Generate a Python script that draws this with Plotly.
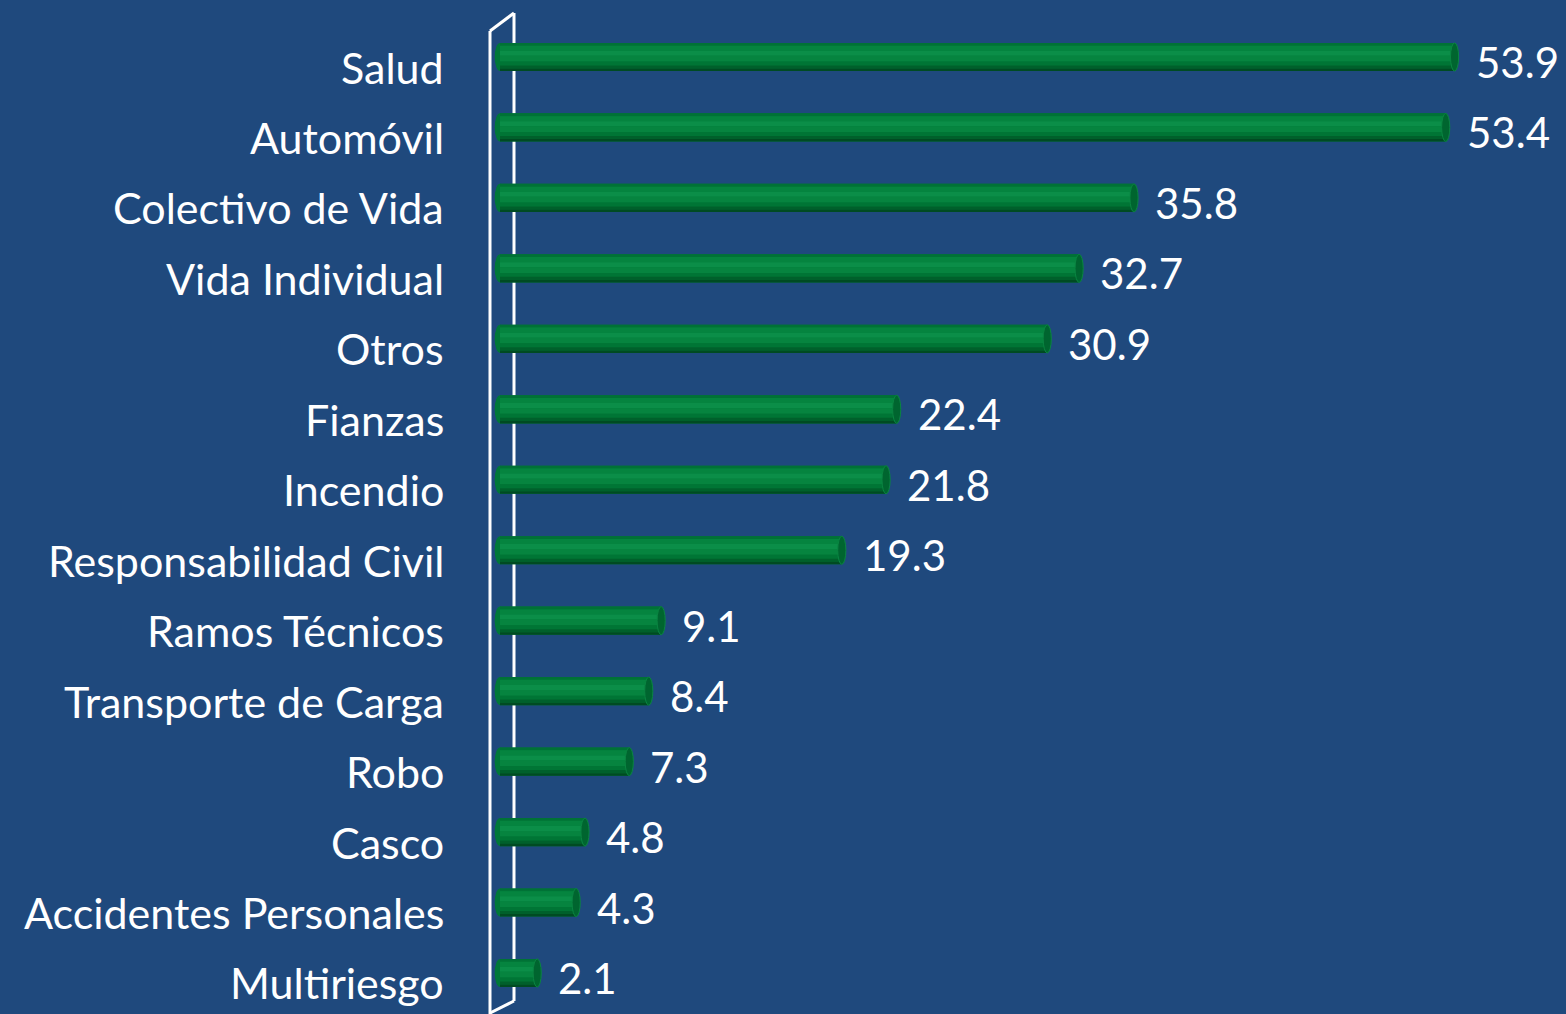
import plotly.graph_objects as go

categories = ["Salud", "Automóvil", "Colectivo de Vida", "Vida Individual", "Otros",
              "Fianzas", "Incendio", "Responsabilidad Civil", "Ramos Técnicos",
              "Transporte de Carga", "Robo", "Casco", "Accidentes Personales", "Multiriesgo"]
values = [53.9, 53.4, 35.8, 32.7, 30.9, 22.4, 21.8, 19.3, 9.1, 8.4, 7.3, 4.8, 4.3, 2.1]
value_labels = [f"{v:.1f}" for v in values]

W, H = 1566, 1014
BG = "#1F497D"
FONT = "Lato"
n = len(categories)
idx = list(range(n))

ML, MR = 460, 10
PX_PER_UNIT = 17.71
ZERO_PX = 500
x_lo = -(ZERO_PX - ML) / PX_PER_UNIT
x_hi = x_lo + (W - ML - MR) / PX_PER_UNIT

# y mapping: category centers at 57 + 70.46*i px
first_c, step = 57.0, 70.46
y_top = -first_c / step
y_bot = (H - first_c) / step

half = 0.2
fig = go.Figure()
# solid base under the shading bands (hides anti-aliasing seams)
fig.add_trace(go.Bar(
    x=values, y=idx, orientation="h",
    width=[2 * half] * n, offset=[-half] * n,
    marker=dict(color="#007A3A", line=dict(width=0)),
    hoverinfo="skip", showlegend=False,
))
# cylinder shading bands (fraction of bar thickness from top, colour)
bands = [
    (0.00, 0.10, "#007236"),
    (0.10, 0.28, "#05843F"),
    (0.28, 0.46, "#0B8E48"),
    (0.46, 0.66, "#06843F"),
    (0.66, 0.80, "#007535"),
    (0.80, 0.91, "#00602B"),
    (0.91, 1.00, "#004B22"),
]
for f0, f1, col in bands:
    fig.add_trace(go.Bar(
        x=values, y=idx, orientation="h",
        width=[(f1 - f0) * 2 * half] * n, offset=[-half + f0 * 2 * half] * n,
        marker=dict(color=col, line=dict(width=0)),
        hoverinfo="skip", showlegend=False,
    ))

shapes = []
def px2x(p):
    return (p - ZERO_PX) / PX_PER_UNIT
def py2paper(p):
    return 1 - p / H

# frame (3D wall)
line = dict(color="white", width=3)
shapes.append(dict(type="line", xref="x", yref="paper", x0=px2x(514), x1=px2x(514),
                   y0=py2paper(13), y1=py2paper(1001), line=line, layer="below"))
shapes.append(dict(type="line", xref="x", yref="paper", x0=px2x(490), x1=px2x(490),
                   y0=py2paper(31), y1=py2paper(1016), line=line, layer="above"))
shapes.append(dict(type="line", xref="x", yref="paper", x0=px2x(490), x1=px2x(514),
                   y0=py2paper(31), y1=py2paper(13), line=line, layer="above"))
shapes.append(dict(type="line", xref="x", yref="paper", x0=px2x(514), x1=px2x(490),
                   y0=py2paper(1001), y1=py2paper(1013), line=line, layer="above"))

cap_w = 0.23
for i, v in enumerate(values):
    # rounded left end
    shapes.append(dict(type="circle", xref="x", yref="y", x0=-0.3, x1=0.3,
                       y0=i - half, y1=i + half, fillcolor="#007838",
                       line=dict(width=0), layer="below"))
    # end cap
    shapes.append(dict(type="circle", xref="x", yref="y", x0=v - cap_w, x1=v + cap_w,
                       y0=i - half, y1=i + half, fillcolor="#00652F",
                       line=dict(color="#0A8542", width=1), layer="above"))

annotations = []
for i, c in enumerate(categories):
    annotations.append(dict(text=c, xref="paper", yref="y", x=(446 - ML) / (W - ML - MR),
                            y=i, xanchor="right", yanchor="middle", showarrow=False,
                            yshift=-10, font=dict(family=FONT, size=43, color="white")))
for i, (v, t) in enumerate(zip(values, value_labels)):
    annotations.append(dict(text=t, xref="x", yref="y", x=v, y=i, xanchor="left",
                            yanchor="middle", xshift=19, yshift=-5, showarrow=False,
                            font=dict(family=FONT, size=42, color="white")))

fig.update_layout(
    width=W, height=H, barmode="overlay",
    paper_bgcolor=BG, plot_bgcolor=BG,
    margin=dict(l=ML, r=MR, t=0, b=0),
    xaxis=dict(range=[x_lo, x_hi], visible=False, fixedrange=True),
    yaxis=dict(range=[y_bot, y_top], visible=False, fixedrange=True),
    shapes=shapes, annotations=annotations,
    font=dict(family=FONT, color="white"),
)
fig.write_html("out.html")
